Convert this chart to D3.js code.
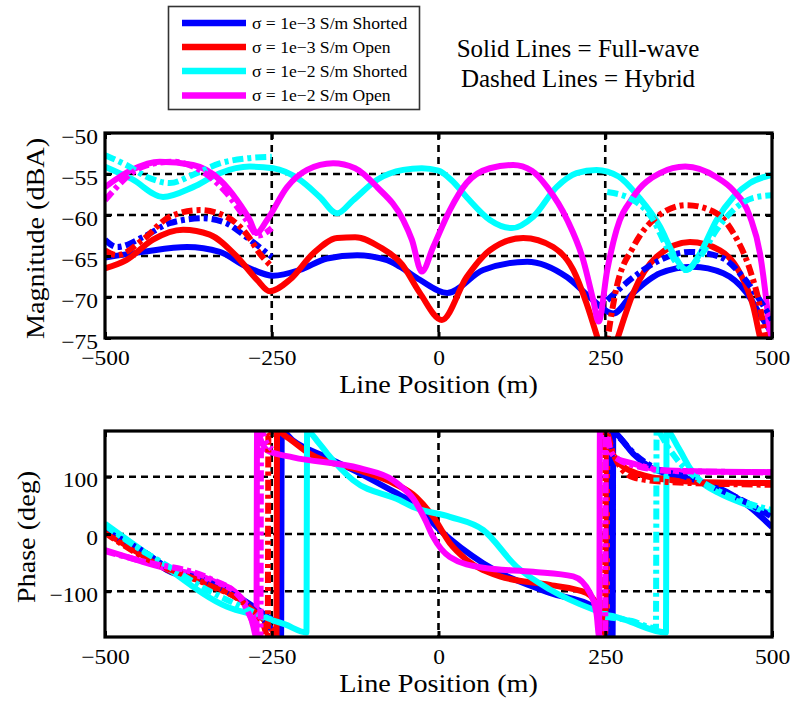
<!DOCTYPE html>
<html><head><meta charset="utf-8">
<script src="https://cdn.jsdelivr.net/npm/d3@7/dist/d3.min.js"></script>
<style>body{margin:0;background:#fff;} svg{display:block;} text{font-family:"Liberation Serif","Times New Roman",serif;fill:#000;}</style>
</head><body>
<svg id="chart" width="797" height="702"></svg>
<script>
// ---------- data ----------
const xTicks = [-500, -250, 0, 250, 500];
const magTicks = [-75, -70, -65, -60, -55, -50];
const phaseTicks = [-100, 0, 100];
const seriesLabels = ["σ = 1e−3 S/m Shorted", "σ = 1e−3 S/m Open", "σ = 1e−2 S/m Shorted", "σ = 1e−2 S/m Open"];
const seriesColors = ["#0000ff", "#ff0000", "#00ffff", "#ff00ff"];
const noteLines = ["Solid Lines = Full-wave", "Dashed Lines = Hybrid"];

// Magnitude (dBA) – full-wave (solid)
const magFullBlue = [[-500,-65.2],[-443,-64.5],[-377,-63.9],[-328,-64.5],[-288,-66.3],[-248,-67.4],[-208,-66.7],[-167,-65.3],[-122,-64.9],[-77,-65.5],[-58,-66.3],[-28,-67.9],[13,-69.5],[67,-66.7],[133,-65.7],[193,-67.6],[232,-70.4],[262,-72.0],[292,-69.5],[332,-67.1],[381,-66.3],[427,-67.1],[462,-69.5],[487,-72.8],[500,-74.4]];
const magFullRed = [[-500,-66.5],[-468,-65.5],[-428,-63.0],[-383,-61.8],[-343,-62.4],[-302,-65.1],[-272,-67.9],[-253,-69.3],[-223,-67.9],[-188,-64.7],[-152,-62.8],[-125,-62.7],[-88,-63.9],[-55,-66.0],[-28,-69.5],[5,-72.8],[42,-67.6],[77,-64.3],[127,-62.8],[172,-63.9],[202,-66.7],[222,-70.8],[238,-74.9],[253,-79],[269,-74.9],[292,-69.5],[327,-65.1],[377,-63.3],[422,-64.3],[452,-67.1],[472,-71.2],[482,-74.9],[495,-79]];
const magFullCyan = [[-500,-54.1],[-460,-55.6],[-413,-57.8],[-368,-56.6],[-328,-54.9],[-283,-54.1],[-248,-54.3],[-208,-55.7],[-178,-57.8],[-152,-59.8],[-128,-58.2],[-92,-55.7],[-53,-54.5],[-25,-54.3],[0,-54.6],[20,-55.8],[42,-57.8],[77,-60.6],[110,-61.6],[142,-60.2],[177,-56.6],[207,-54.9],[237,-54.5],[270,-55.3],[300,-57.8],[332,-61.4],[352,-64.7],[372,-66.7],[392,-64.7],[417,-60.6],[442,-57.8],[467,-56.1],[500,-55.1]];
const magFullMagenta = [[-500,-56.6],[-460,-54.5],[-418,-53.5],[-368,-53.9],[-328,-55.7],[-302,-58.2],[-283,-60.6],[-273,-62.2],[-257,-60.6],[-227,-56.6],[-197,-54.5],[-158,-53.7],[-125,-54.3],[-92,-56.6],[-53,-60.6],[-40,-63.0],[-25,-66.9],[-8,-63.9],[17,-59.4],[42,-56.1],[77,-54.3],[112,-53.9],[140,-54.6],[163,-56.6],[193,-60.6],[217,-65.5],[232,-70.4],[240,-73.0],[253,-66.7],[267,-61.8],[292,-57.8],[332,-54.9],[370,-54.1],[417,-55.4],[442,-57.0],[467,-60.2],[482,-64.7],[492,-70.8],[498,-75.5]];

// Magnitude (dBA) – hybrid (dashed), left and right ends
const magHybBlueL = [[-500,-63.0],[-482,-63.9],[-443,-62.7],[-403,-61.0],[-353,-60.4],[-318,-61.0],[-288,-62.7],[-250,-65.1]];
const magHybRedL = [[-500,-64.3],[-482,-64.9],[-443,-63.0],[-403,-60.2],[-358,-59.4],[-318,-60.2],[-288,-62.3],[-268,-64.7],[-250,-66.3]];
const magHybCyanL = [[-500,-52.7],[-468,-53.9],[-433,-55.5],[-403,-56.1],[-368,-55.1],[-328,-53.7],[-288,-53.1],[-250,-52.9]];
const magHybMagentaL = [[-500,-58.2],[-443,-54.1],[-400,-53.5],[-358,-54.5],[-318,-57.3],[-288,-60.6],[-270,-62.5],[-250,-61.6]];
const magHybBlueR = [[253,-70.4],[292,-67.6],[332,-65.5],[377,-64.5],[422,-65.1],[457,-67.6],[482,-70.4],[500,-72.8]];
const magHybRedR = [[250,-77],[267,-68.8],[292,-63.9],[322,-60.6],[372,-58.8],[417,-59.8],[442,-62.2],[467,-66.7],[482,-71.2],[490,-74.9],[497,-78]];
const magHybCyanR = [[253,-57.2],[292,-58.2],[322,-60.6],[342,-63.9],[370,-66.7],[392,-65.1],[417,-61.8],[442,-59.4],[472,-57.9],[500,-57.6]];

// Phase (deg) – full-wave (solid)
const phFullBlue = [[-500,3],[-443,-33],[-407,-63],[-343,-85],[-293,-115],[-257,-144],[-240,-160],[-236,-180],[-235,180],[-218,163],[-167,134],[-118,106],[-58,68],[-38,55],[2,7],[67,-51],[167,-103],[232,-127],[255,-150],[261,-180],[262,180],[267,175],[292,140],[317,117],[367,99],[417,82],[467,47],[500,12]];
const phFullRed = [[-500,3],[-443,-38],[-407,-62],[-343,-88],[-293,-118],[-262,-150],[-247,-172],[-243,-180],[-242,180],[-227,169],[-193,140],[-118,111],[-68,89],[-33,64],[-8,30],[17,-16],[42,-45],[92,-74],[167,-89],[222,-103],[243,-140],[252,-180],[253,180],[258,150],[270,125],[300,105],[350,94],[420,90],[500,89]];
const phFullCyan = [[-500,18],[-418,-50],[-317,-127],[-268,-144],[-230,-158],[-198,-172],[-197,180],[-180,160],[-167,141],[-128,94],[-58,59],[-38,47],[17,30],[67,7],[117,-57],[167,-97],[232,-132],[280,-150],[341,-172],[342,180],[360,150],[377,115],[395,90],[420,72],[460,52],[500,35]];
const phFullMagenta = [[-500,-28],[-418,-57],[-343,-80],[-298,-109],[-285,-130],[-278,-160],[-273,-180],[-272,180],[-265,160],[-257,146],[-218,134],[-118,115],[-68,94],[-58,85],[-38,62],[-20,25],[-8,-5],[17,-40],[67,-59],[142,-66],[202,-74],[227,-103],[237,-140],[241,-180],[242,180],[248,150],[253,140],[292,123],[342,111],[500,108]];

// Phase (deg) – hybrid (dashed)
const phHybBlueL = [[-500,5],[-443,-30],[-407,-58],[-343,-85],[-293,-118],[-262,-150],[-250,-168]];
const phHybRedL = [[-500,2],[-443,-40],[-343,-90],[-293,-120],[-262,-160],[-256,-180],[-255,180],[-250,170]];
const phHybCyanL = [[-500,15],[-443,-30],[-407,-55],[-343,-100],[-293,-128],[-250,-150]];
const phHybMagentaL = [[-500,-30],[-443,-48],[-343,-78],[-298,-110],[-280,-150],[-267,-180],[-266,180],[-258,160],[-250,148]];
const phHybBlueR = [[250,-160],[259,-180],[260,180],[270,170],[292,142],[320,118],[370,100],[420,78],[470,50],[500,30]];
const phHybRedR = [[250,-175],[251,180],[262,140],[292,99],[342,91],[500,86]];
const phHybCyanR = [[250,-145],[290,-152],[326,-165],[327,180],[345,150],[365,120],[390,95],[420,75],[460,55],[500,42]];
const phHybMagentaR = [[250,-170],[251,180],[258,145],[270,130],[300,118],[350,110],[500,108]];

// ---------- drawing ----------
const svg = d3.select("#chart");
const xL = 105, xR = 772;
const panels = [
  {top:133, bot:338, domain:[-75,-50], ticks:magTicks, title:"Magnitude (dBA)", titleX:44, id:"mag",
   full:[magFullBlue, magFullRed, magFullCyan, magFullMagenta],
   hyb:[[magHybBlueL, magHybBlueR],[magHybRedL, magHybRedR],[magHybCyanL, magHybCyanR],[magHybMagentaL]]},
  {top:431, bot:637, domain:[-180,180], ticks:phaseTicks, title:"Phase (deg)", titleX:35, id:"ph",
   full:[phFullBlue, phFullRed, phFullCyan, phFullMagenta],
   hyb:[[phHybBlueL, phHybBlueR],[phHybRedL, phHybRedR],[phHybCyanL, phHybCyanR],[phHybMagentaL, phHybMagentaR]]}
];
const x = d3.scaleLinear().domain([-500, 500]).range([xL, xR]);
const tickFont = 21, tickSX = 1.12;
const titleFont = 24.5, titleSX = 1.15;

panels.forEach(p => {
  const y = d3.scaleLinear().domain(p.domain).range([p.bot, p.top]);
  const g = svg.append("g");
  g.append("clipPath").attr("id", "clip-" + p.id)
    .append("rect").attr("x", xL).attr("y", p.top).attr("width", xR - xL).attr("height", p.bot - p.top);

  // grid
  const grid = g.append("g").attr("stroke", "#000").attr("stroke-width", 2.6).attr("stroke-dasharray", "7,5");
  grid.selectAll(".gx").data(xTicks.slice(1, -1)).join("line")
    .attr("x1", d => x(d)).attr("x2", d => x(d)).attr("y1", p.top).attr("y2", p.bot);
  grid.selectAll(".gy").data(p.ticks.filter(t => t > p.domain[0] && t < p.domain[1])).join("line")
    .attr("x1", xL).attr("x2", xR).attr("y1", d => y(d)).attr("y2", d => y(d));

  // series
  const line = d3.line().x(d => x(d[0])).y(d => y(d[1])).curve(d3.curveMonotoneX);
  const lines = g.append("g").attr("clip-path", `url(#clip-${p.id})`).attr("fill", "none");
  p.full.forEach((s, i) => {
    lines.append("path").datum(s).attr("d", line)
      .attr("stroke", seriesColors[i]).attr("stroke-width", 6).attr("stroke-linejoin", "round");
  });
  p.hyb.forEach((segs, i) => {
    segs.forEach(s => {
      lines.append("path").datum(s).attr("d", line)
        .attr("stroke", seriesColors[i]).attr("stroke-width", 6)
        .attr("stroke-dasharray", "11,4,4,4");
    });
  });

  // axes with inner ticks
  const bottom = g.append("g").attr("transform", `translate(0,${p.bot})`)
    .call(d3.axisBottom(x).tickValues(xTicks).tickSizeInner(-6).tickSizeOuter(0));
  bottom.select(".domain").remove();
  bottom.selectAll("line").attr("stroke", "#000").attr("stroke-width", 3);
  bottom.selectAll("text").attr("y", 27).attr("dy", 0)
    .style("font-size", tickFont + "px").attr("font-family", null)
    .attr("transform", `scale(${tickSX},1)`);

  const topAx = g.append("g").attr("transform", `translate(0,${p.top})`)
    .call(d3.axisTop(x).tickValues(xTicks).tickSizeInner(-6).tickSizeOuter(0).tickFormat(""));
  topAx.select(".domain").remove();
  topAx.selectAll("line").attr("stroke", "#000").attr("stroke-width", 3);

  const left = g.append("g").attr("transform", `translate(${xL},0)`)
    .call(d3.axisLeft(y).tickValues(p.ticks).tickSizeInner(-6).tickSizeOuter(0));
  left.select(".domain").remove();
  left.selectAll("line").attr("stroke", "#000").attr("stroke-width", 3);
  left.selectAll("text").attr("x", -7 / tickSX).attr("dy", 0).attr("y", 10)
    .style("font-size", tickFont + "px").attr("font-family", null)
    .attr("transform", `scale(${tickSX},1)`);

  const right = g.append("g").attr("transform", `translate(${xR},0)`)
    .call(d3.axisRight(y).tickValues(p.ticks).tickSizeInner(-6).tickSizeOuter(0).tickFormat(""));
  right.select(".domain").remove();
  right.selectAll("line").attr("stroke", "#000").attr("stroke-width", 3);

  // frame
  g.append("rect").attr("x", xL).attr("y", p.top).attr("width", xR - xL).attr("height", p.bot - p.top)
    .attr("fill", "none").attr("stroke", "#000").attr("stroke-width", 3.2);

  // titles
  g.append("g").attr("transform", `translate(${(xL + xR) / 2},${p.bot + 55})`)
    .append("text").attr("text-anchor", "middle").attr("transform", `scale(${titleSX},1)`)
    .style("font-size", titleFont + "px").text("Line Position (m)");
  g.append("g").attr("transform", `translate(${p.titleX},${(p.top + p.bot) / 2 + 3}) rotate(-90)`)
    .append("text").attr("text-anchor", "middle").attr("transform", `scale(${titleSX},1)`)
    .style("font-size", titleFont + "px").text(p.title);
});

// legend
const lg = svg.append("g");
lg.append("rect").attr("x", 168.5).attr("y", 6.5).attr("width", 251).attr("height", 103)
  .attr("fill", "#fff").attr("stroke", "#333").attr("stroke-width", 1.6);
const legendRows = [23, 47, 71, 95.5];
seriesLabels.forEach((lab, i) => {
  lg.append("line").attr("x1", 182).attr("x2", 246).attr("y1", legendRows[i]).attr("y2", legendRows[i])
    .attr("stroke", seriesColors[i]).attr("stroke-width", 6.5);
  lg.append("g").attr("transform", `translate(252,${legendRows[i] + 5.5})`)
    .append("text").attr("transform", "scale(1.1,1)").style("font-size", "16px").text(lab);
});

// note
noteLines.forEach((t, i) => {
  svg.append("text").attr("x", 578).attr("y", 56.5 + i * 30).attr("text-anchor", "middle")
    .style("font-size", "25px").text(t);
});
</script>
</body></html>
